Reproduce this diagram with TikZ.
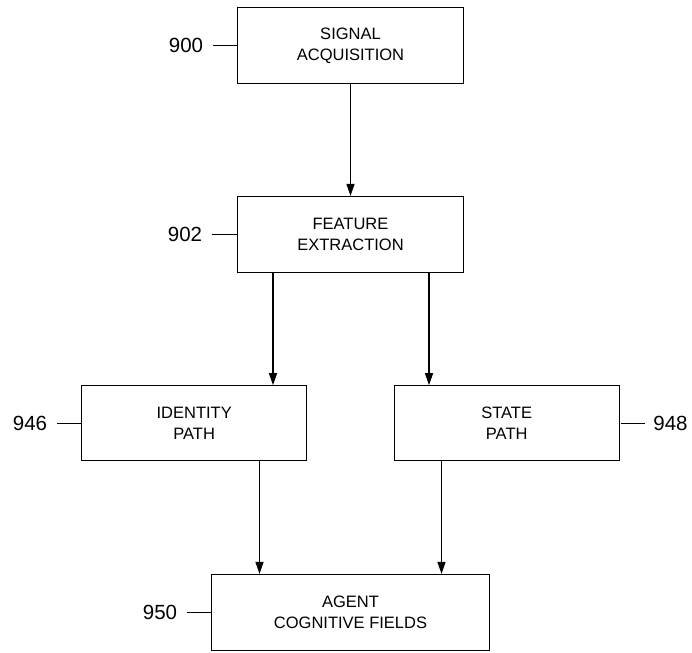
\documentclass[tikz,border=0pt]{standalone}
\usepackage{fontspec}
\setmainfont{Liberation Sans}
\usetikzlibrary{arrows.meta}
\begin{document}
\begin{tikzpicture}[x=1pt,y=-1pt,
  box/.style={draw, line width=1.2pt, align=center, inner sep=0pt,
    font=\fontsize{16.5}{21}\selectfont},
  lbl/.style={inner xsep=10pt, inner ysep=0pt, font=\fontsize{20.5}{24}\selectfont},
  conn/.style={line width=1.2pt},
  arr/.style={line width=1.2pt, -{Triangle[length=12pt,width=8pt]}}]
\useasboundingbox (0,0) rectangle (692,652);
\node[box, minimum width=226pt, minimum height=76pt] (sig) at (350.5,45.5) {SIGNAL\\ACQUISITION};
\node[box, minimum width=226pt, minimum height=76pt] (feat) at (350.5,234.5) {FEATURE\\EXTRACTION};
\node[box, minimum width=225pt, minimum height=75pt] (id) at (194.2,423.3) {IDENTITY\\PATH};
\node[box, minimum width=225pt, minimum height=75pt] (st) at (506.7,423.3) {STATE\\PATH};
\node[box, minimum width=278pt, minimum height=76pt] (agent) at (350.5,612.5) {AGENT\\COGNITIVE FIELDS};

\node[lbl] (l900) at (186,45.5) {900};
\node[lbl] (l902) at (185,234.5) {902};
\node[lbl] (l946) at (30,423.3) {946};
\node[lbl, inner xsep=8.5pt] (l948) at (670.5,423.3) {948};
\node[lbl] (l950) at (160,612.5) {950};

\draw[conn] (l900.east) -- (sig.west);
\draw[conn] (l902.east) -- (feat.west);
\draw[conn] (l946.east) -- (id.west);
\draw[conn] ([xshift=1.5pt]st.east) -- (l948.west);
\draw[conn] (l950.east) -- (agent.west);

\draw[arr] (sig.south) -- (feat.north);
\draw[arr] (feat.south -| 273,0) -- (id.north -| 273,0);
\draw[arr] (feat.south -| 429,0) -- (st.north -| 429,0);
\draw[arr] (id.south -| 259.5,0) -- (agent.north -| 259.5,0);
\draw[arr] (st.south -| 441.5,0) -- (agent.north -| 441.5,0);
\end{tikzpicture}
\end{document}
